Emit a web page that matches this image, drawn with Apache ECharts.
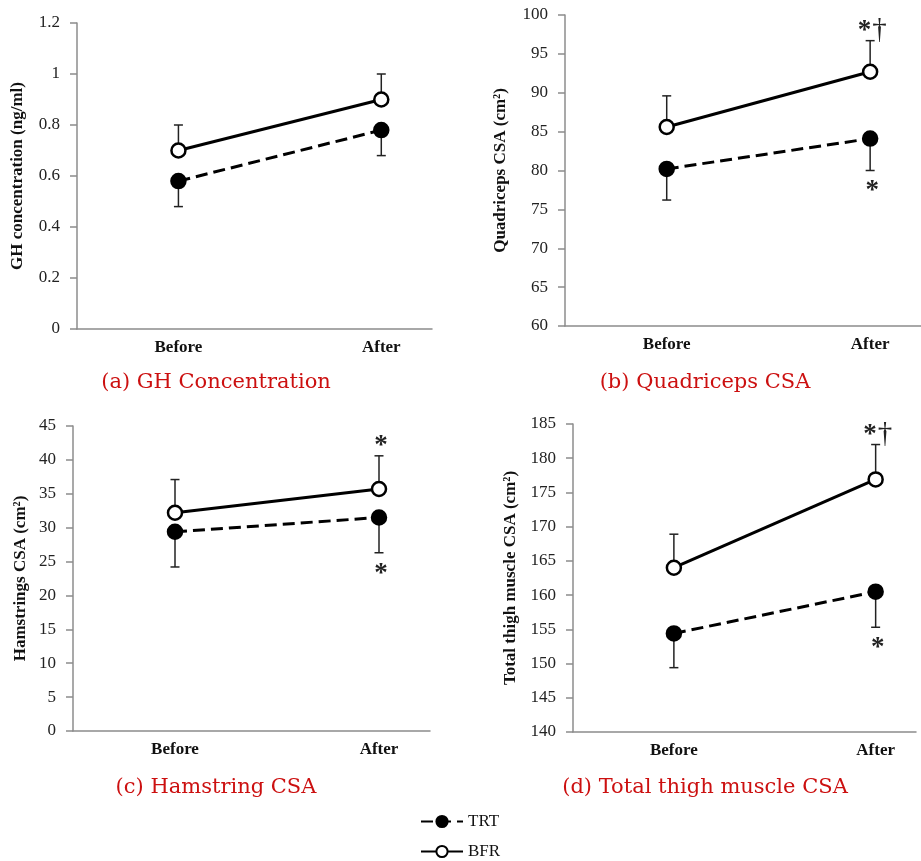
<!DOCTYPE html>
<html>
<head>
<meta charset="utf-8">
<script src="https://cdn.jsdelivr.net/npm/echarts@6/dist/echarts.min.js"></script>
<style>
  html, body { margin: 0; padding: 0; background: #fff; }
  #main { width: 921px; height: 861px; }
</style>
</head>
<body>
<div id="main"></div>
<script>
// categories
var cats = ['Before', 'After'];

// (a) GH concentration
var ghTRT = [0.58, 0.78];
var ghTRTsd = [0.10, 0.10];
var ghBFR = [0.70, 0.90];
var ghBFRsd = [0.10, 0.10];

// (b) quadriceps CSA
var quadTRT = [80.2, 84.1];
var quadTRTsd = [4.0, 4.1];
var quadBFR = [85.6, 92.7];
var quadBFRsd = [4.0, 4.0];

// (c) hamstring CSA
var hamTRT = [29.4, 31.5];
var hamTRTsd = [5.2, 5.2];
var hamBFR = [32.2, 35.7];
var hamBFRsd = [4.9, 4.9];

// (d) total thigh muscle CSA
var thighTRT = [154.4, 160.5];
var thighTRTsd = [5.0, 5.2];
var thighBFR = [164.0, 176.9];
var thighBFRsd = [4.9, 5.1];

// significance marks
var noMarks = ['', ''];
var quadBFRmarks = ['', '*\u2020'];
var quadTRTmarks = ['', '*'];
var hamBFRmarks = ['', '*'];
var hamTRTmarks = ['', '*'];
var thighBFRmarks = ['', '*\u2020'];
var thighTRTmarks = ['', '*'];

// y axis ticks
var yMins = [0, 60, 0, 140];
var yMaxs = [1.2, 100, 45, 185];
var yIntervals = [0.2, 5, 5, 5];
var yNames = ['GH concentration (ng/ml)', 'Quadriceps CSA (cm\u00b2)', 'Hamstrings CSA (cm\u00b2)', 'Total thigh muscle CSA (cm\u00b2)'];
var captions = ['(a) GH Concentration', '(b) Quadriceps CSA', '(c) Hamstring CSA', '(d) Total thigh muscle CSA'];

var serif = '"Liberation Serif", "Times New Roman", serif';

var myChart = echarts.init(document.getElementById('main'));

var grids = [
    { left: 77, top: 23, width: 355, height: 306 },
    { left: 565, top: 15, width: 359, height: 311 },
    { left: 73, top: 426, width: 357, height: 305 },
    { left: 573, top: 424, width: 343, height: 308 }
];
var xMaxs = [1.25, 1.25, 1.25, 1.2];
var nameGaps = [51, 56, 44, 54];

var xAxes = [], yAxes = [], series = [];

function lineSeries(gi, name, vals, filled) {
    return {
        name: name,
        type: 'line',
        xAxisIndex: gi,
        yAxisIndex: gi,
        z: 3,
        data: vals.map(function (v, i) { return [i, v]; }),
        symbol: 'circle',
        symbolSize: 14,
        lineStyle: { color: '#000', width: 3, type: filled ? [12, 6] : 'solid' },
        itemStyle: { color: filled ? '#000' : '#fff', borderColor: '#000', borderWidth: 2.5 },
        emphasis: { disabled: true },
        animation: false
    };
}

// one-sided error bar, dir = 1 up, -1 down
function errSeries(gi, vals, sds, dir, marks) {
    return {
        type: 'custom',
        xAxisIndex: gi,
        yAxisIndex: gi,
        z: 1,
        silent: true,
        animation: false,
        data: vals.map(function (v, i) { return [i, v, v + dir * sds[i]]; }),
        renderItem: function (params, api) {
            var p0 = api.coord([api.value(0), api.value(1)]);
            var p1 = api.coord([api.value(0), api.value(2)]);
            var st = { stroke: '#222', lineWidth: 1.5 };
            var children = [
                { type: 'line', shape: { x1: p0[0], y1: p0[1], x2: p1[0], y2: p1[1] }, style: st },
                { type: 'line', shape: { x1: p1[0] - 4.5, y1: p1[1], x2: p1[0] + 4.5, y2: p1[1] }, style: st }
            ];
            var mark = marks[params.dataIndex];
            if (mark) {
                var txt = mark.replace('*', '{s|*}').replace('\u2020', '{d|\u2020}');
                children.push({
                    type: 'text',
                    x: p1[0] + 2,
                    y: dir > 0 ? p1[1] - 10 : p1[1] + 21,
                    style: {
                        text: txt, fill: '#222',
                        align: 'center', verticalAlign: 'middle',
                        rich: {
                            s: { fontFamily: serif, fontWeight: 'bold', fontSize: 27, fill: '#222' },
                            d: { fontFamily: serif, fontSize: 29, fill: '#222', padding: [0, 0, 1, 1] }
                        }
                    }
                });
            }
            return { type: 'group', children: children };
        }
    };
}

for (var gi = 0; gi < 4; gi++) {
    xAxes.push({
        type: 'value',
        gridIndex: gi,
        min: -0.5,
        max: xMaxs[gi],
        splitLine: { show: false },
        axisLine: { onZero: false, lineStyle: { color: '#8c8c8c', width: 1.5 } },
        axisTick: { show: false },
        axisLabel: {
            customValues: [0, 1],
            formatter: function (v) { return cats[v]; },
            color: '#111',
            fontFamily: serif,
            fontWeight: 'bold',
            fontSize: 17,
            margin: 10
        }
    });
    yAxes.push({
        type: 'value',
        gridIndex: gi,
        min: yMins[gi],
        max: yMaxs[gi],
        interval: yIntervals[gi],
        name: yNames[gi],
        nameLocation: 'middle',
        nameGap: nameGaps[gi],
        nameTextStyle: { fontFamily: serif, fontWeight: 'bold', fontSize: 17, color: '#111' },
        splitLine: { show: false },
        axisLine: { show: true, onZero: false, lineStyle: { color: '#8c8c8c', width: 1.5 } },
        axisTick: { show: true, length: 7, lineStyle: { color: '#8c8c8c', width: 1.5 } },
        axisLabel: { color: '#222', fontFamily: serif, fontSize: 17, margin: 17 }
    });
}

series.push(errSeries(0, ghBFR, ghBFRsd, 1, noMarks));
series.push(errSeries(0, ghTRT, ghTRTsd, -1, noMarks));
series.push(lineSeries(0, 'TRT', ghTRT, true));
series.push(lineSeries(0, 'BFR', ghBFR, false));

series.push(errSeries(1, quadBFR, quadBFRsd, 1, quadBFRmarks));
series.push(errSeries(1, quadTRT, quadTRTsd, -1, quadTRTmarks));
series.push(lineSeries(1, 'TRT', quadTRT, true));
series.push(lineSeries(1, 'BFR', quadBFR, false));

series.push(errSeries(2, hamBFR, hamBFRsd, 1, hamBFRmarks));
series.push(errSeries(2, hamTRT, hamTRTsd, -1, hamTRTmarks));
series.push(lineSeries(2, 'TRT', hamTRT, true));
series.push(lineSeries(2, 'BFR', hamBFR, false));

series.push(errSeries(3, thighBFR, thighBFRsd, 1, thighBFRmarks));
series.push(errSeries(3, thighTRT, thighTRTsd, -1, thighTRTmarks));
series.push(lineSeries(3, 'TRT', thighTRT, true));
series.push(lineSeries(3, 'BFR', thighBFR, false));

// sub-figure captions
var capPos = [[216, 383], [705, 383], [216, 788], [705, 788]];
var graphics = captions.map(function (c, i) {
    return {
        type: 'text',
        x: capPos[i][0],
        y: capPos[i][1],
        style: { text: c, fill: '#cc1010', font: '21px "DejaVu Serif", serif', align: 'center', verticalAlign: 'middle' }
    };
});

var option = {
    animation: false,
    grid: grids,
    xAxis: xAxes,
    yAxis: yAxes,
    legend: {
        data: ['TRT', 'BFR'],
        orient: 'vertical',
        left: 420,
        top: 813,
        padding: 0,
        itemWidth: 42,
        itemHeight: 14,
        itemGap: 13,
        selectedMode: false,
        textStyle: { fontFamily: serif, fontSize: 17, color: '#111' }
    },
    graphic: graphics,
    series: series
};

myChart.setOption(option);
</script>
</body>
</html>
